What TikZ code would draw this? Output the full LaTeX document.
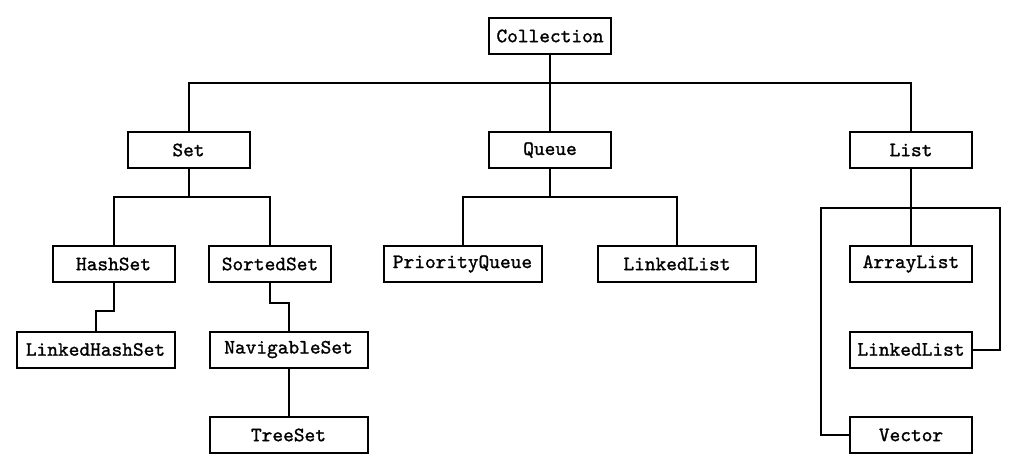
\documentclass[tikz,border=0pt]{standalone}
\usepackage{fontspec}
\newfontfamily\clsfont{Latin Modern Mono}[FakeBold=1.2]
\begin{document}
\begin{tikzpicture}[x=0.5pt, y=-0.5pt, line width=1pt,
  every node/.style={font=\clsfont\fontsize{10.2}{12}\selectfont},
  cls/.style={draw, minimum width=61pt, minimum height=18pt, inner sep=0pt},
  longcls/.style={cls, minimum width=79pt}]

\useasboundingbox (0,0) rectangle (1020,471);

\node[cls] (coll) at (550,36) {Collection};

\node[cls] (set) at (188.5,150) {Set};
\node[cls] (queue) at (550,150) {Queue};
\node[cls] (list) at (911,150) {List};

\node[cls] (hashset) at (113.5,264) {HashSet};
\node[cls] (sortedset) at (270,264) {SortedSet};
\node[longcls] (pqueue) at (462.5,264) {PriorityQueue};
\node[longcls] (qlinked) at (677,264) {LinkedList};
\node[cls] (arraylist) at (911,264) {ArrayList};

\node[longcls] (lhset) at (95.5,349.5) {LinkedHashSet};
\node[longcls] (navset) at (288.5,349.5) {NavigableSet};
\node[cls] (llinked) at (911,349.5) {LinkedList};

\node[longcls] (treeset) at (288.5,435) {TreeSet};
\node[cls] (vector) at (911,435) {Vector};

\coordinate (topbus) at (550,83);
\coordinate (setbus) at (188.5,197);
\coordinate (queuebus) at (550,197);
\coordinate (listbus) at (911,208);

\draw (coll) -- (queue);
\draw (set.north) |- (topbus) -| (list.north);

\draw (set) -- (setbus);
\draw (hashset.north) |- (setbus) -| (sortedset.north);
\draw (hashset.south) |- ([yshift=10pt]lhset.north) -- (lhset.north);
\draw (sortedset.south) |- ([yshift=14pt]navset.north) -- (navset.north);
\draw (navset) -- (treeset);

\draw (queue) -- (queuebus);
\draw (pqueue.north) |- (queuebus) -| (qlinked.north);

\draw (list) -- (arraylist);
\draw (vector.west) -- ++(-28,0) |- (listbus) -| ([xshift=13.5pt]llinked.east) -- (llinked.east);
\end{tikzpicture}
\end{document}
